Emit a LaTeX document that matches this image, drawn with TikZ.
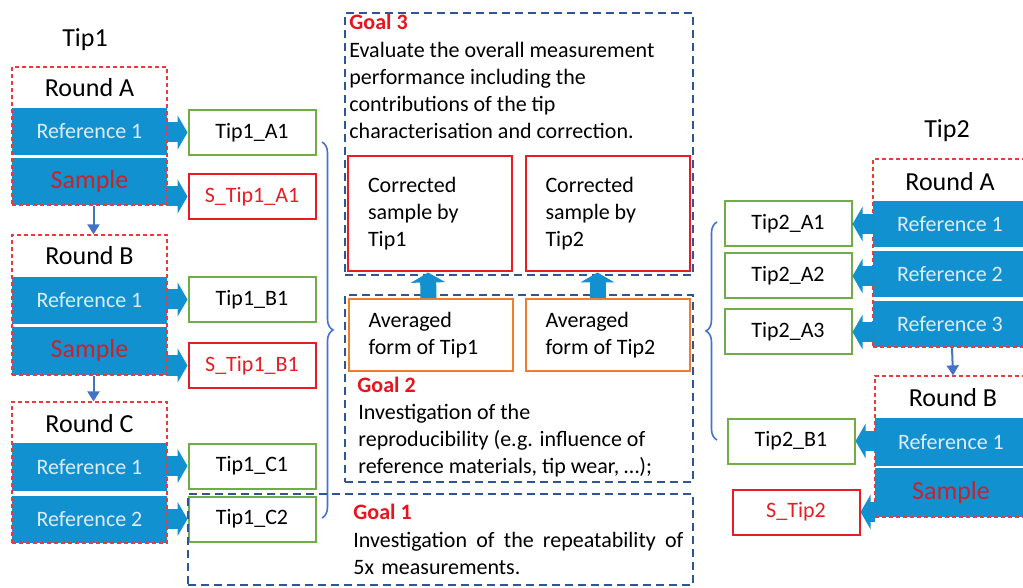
\documentclass[tikz,border=0pt]{standalone}
\usepackage{fontspec}
\setmainfont{Carlito}
\usepackage{tikz}
\usetikzlibrary{arrows.meta,decorations.pathreplacing}

\definecolor{barblue}{RGB}{18,145,208}
\definecolor{refwhite}{RGB}{222,236,250}
\definecolor{smpred}{RGB}{196,36,44}
\definecolor{rndred}{RGB}{232,60,60}
\definecolor{boxgreen}{RGB}{112,173,71}
\definecolor{boxred}{RGB}{232,28,36}
\definecolor{boxorange}{RGB}{237,125,49}
\definecolor{goalblue}{RGB}{47,85,151}
\definecolor{goalred}{RGB}{232,20,28}
\definecolor{linkblue}{RGB}{68,114,196}

\begin{document}
\begin{tikzpicture}[x=0.5pt,y=-0.5pt,font=\fontsize{11}{13.5}\selectfont,
  bar/.style={fill=barblue,inner sep=0pt,text=refwhite},
  smpbar/.style={bar,text=smpred,font=\fontsize{13}{15}\selectfont},
  rnd/.style={draw=rndred,line width=0.6pt,dash pattern=on 2pt off 1.5pt,inner sep=0pt},
  tiphd/.style={font=\fontsize{13}{15}\selectfont},
  tipbox/.style={draw=boxgreen,line width=1pt,minimum width=63.5pt,minimum height=22.5pt,inner sep=0pt},
  sbox/.style={tipbox,draw=boxred,text=boxred},
  corbox/.style={draw=boxred,line width=1pt,text width=62pt,inner xsep=10pt,align=flush left,minimum height=57.5pt},
  avgbox/.style={draw=boxorange,line width=1pt,text width=62pt,inner xsep=10pt,align=flush left,minimum height=36pt},
  goalbox/.style={draw=goalblue,line width=1pt,dash pattern=on 4pt off 2.5pt,inner sep=0pt},
  goalhd/.style={text=goalred,font=\fontsize{11}{13.5}\selectfont\bfseries,inner sep=0pt,anchor=west},
  goaltx/.style={inner sep=0pt,anchor=north west,align=left},
  fatarr/.style={draw=barblue,line width=10pt,-{Triangle[length=5pt,width=17pt]}},
  uparr/.style={draw=barblue,line width=8pt,-{Triangle[length=5pt,width=17pt]}},
  downarr/.style={draw=linkblue,line width=1pt,-{Triangle[length=5pt,width=6pt]}},
  brc/.style={draw=linkblue,line width=0.8pt,decorate,decoration={brace,amplitude=5.5pt}}]
  \clip (0,0) rectangle (1023,588);

  % --- Tip1 ---
  \node[tiphd] (tipL) at (85,40) {Tip1};
  \node[bar,minimum width=77.5pt,minimum height=23.5pt] (refA) at (89.5,131.5) {Reference 1};
  \node[smpbar,minimum width=77.5pt,minimum height=23.5pt] (smpA) at (89.5,181.5) {Sample};
  \node[rnd,minimum width=77.5pt,minimum height=69pt] (rndA) at (89.5,136) {};
  \node[tiphd] (labA) at (89.5,88) {Round A};
  \node[bar,minimum width=77.5pt,minimum height=23.5pt] (refB) at (89.5,300.5) {Reference 1};
  \node[smpbar,minimum width=77.5pt,minimum height=24pt] (smpB) at (89.5,351) {Sample};
  \node[rnd,minimum width=77.5pt,minimum height=70pt] (rndB) at (89.5,305) {};
  \node[tiphd] (labB) at (89.5,256) {Round B};
  \node[bar,minimum width=77.5pt,minimum height=24pt] (refC) at (89.5,467) {Reference 1};
  \node[bar,minimum width=77.5pt,minimum height=23.5pt] (refC2) at (89.5,519.5) {Reference 2};
  \node[rnd,minimum width=77.5pt,minimum height=70.5pt] (rndC) at (89.5,472.5) {};
  \node[tiphd] (labC) at (89.5,424) {Round C};
  \draw[downarr] ([xshift=2pt]rndA.south) -- ([xshift=2pt]rndB.north);
  \draw[downarr] ([xshift=2pt]rndB.south) -- ([xshift=2pt]rndC.north);

  \node[tipbox] (tA1) at (252,132.5) {Tip1\_A1};
  \node[sbox] (sA1) at (252,196.5) {S\_Tip1\_A1};
  \node[tipbox] (tB1) at (252,299.5) {Tip1\_B1};
  \node[sbox] (sB1) at (252,365.5) {S\_Tip1\_B1};
  \node[tipbox] (tC1) at (252,466) {Tip1\_C1};
  \node[tipbox] (tC2) at (252,519) {Tip1\_C2};
  \draw[fatarr] (refA.east |- tA1.west) -- (tA1.west);
  \draw[fatarr] (smpA.east |- sA1.west) -- (sA1.west);
  \draw[fatarr] (refB.east |- tB1.west) -- (tB1.west);
  \draw[fatarr] (smpB.east |- sB1.west) -- (sB1.west);
  \draw[fatarr] (refC.east |- tC1.west) -- (tC1.west);
  \draw[fatarr] (refC2.east |- tC2.west) -- (tC2.west);
  \draw[brc] (322,142) -- (322,518);

  % --- Goal 3 ---
  \node[goalbox,minimum width=174pt,minimum height=131pt] (goalC) at (519,144) {};
  \node[goalhd] (gCh) at (349,22) {Goal 3};
  \node[goaltx] (gCt) at (349,42) {Evaluate the overall measurement\\performance including the\\contributions of the tip\\characterisation and correction.};
  \node[corbox] (corA) at (430,214) {Corrected\\sample by\\Tip1};
  \node[corbox] (corB) at (607.5,214) {Corrected\\sample by\\Tip2};

  % --- Goal 2 ---
  \node[goalbox,minimum width=174pt,minimum height=93.5pt] (goalB) at (519,388.5) {};
  \node[avgbox] (avgA) at (430.5,335) {Averaged\\form of Tip1};
  \node[avgbox] (avgB) at (607.5,335) {Averaged\\form of Tip2};
  \node[goalhd] (gBh) at (357,385) {Goal 2};
  \node[goaltx] (gBt) at (358,404) {Investigation of the\\reproducibility (e.g. influence of\\reference materials, tip wear, …);};
  \draw[uparr] ([xshift=-1pt]avgA.north) -- ([xshift=-1pt]corA.south);
  \draw[uparr] ([xshift=-5pt]avgB.north) -- ([xshift=-5pt]corB.south);

  % --- Goal 1 ---
  \node[goalbox,minimum width=252.5pt,minimum height=45.5pt] (goalA) at (440.5,539.5) {};
  \node[goalhd] (gAh) at (353,512) {Goal 1};
  \node[goaltx,text width=165pt] (gAt) at (353,532) {Investigation\hfill of\hfill the\hfill repeatability\hfill of\\5x measurements.};

  % --- Tip2 ---
  \node[tiphd] (tipR) at (947,131) {Tip2};
  \node[bar,minimum width=77pt,minimum height=23pt] (rA1) at (950,224) {Reference 1};
  \node[bar,minimum width=77pt,minimum height=23pt] (rA2) at (950,274) {Reference 2};
  \node[bar,minimum width=77pt,minimum height=23pt] (rA3) at (950,324) {Reference 3};
  \node[rnd,minimum width=77pt,minimum height=94pt] (rndR) at (950,253) {};
  \node[tiphd] (labR) at (950,182) {Round A};
  \node[bar,minimum width=76pt,minimum height=24pt] (rB1) at (951,442) {Reference 1};
  \node[smpbar,minimum width=76pt,minimum height=24.5pt] (sB) at (951,492.5) {Sample};
  \node[rnd,minimum width=76pt,minimum height=70.5pt] (rndS) at (951,446.5) {};
  \node[tiphd] (labS) at (953,398) {Round B};
  \draw[downarr] ([xshift=1pt]rndR.south) -- ([xshift=1pt]rndS.north);

  \node[tipbox] (uA1) at (788,224) {Tip2\_A1};
  \node[tipbox] (uA2) at (788,276) {Tip2\_A2};
  \node[tipbox] (uA3) at (788,332) {Tip2\_A3};
  \node[tipbox] (uB1) at (791,441) {Tip2\_B1};
  \node[sbox] (sT2) at (796,512) {S\_Tip2};
  \draw[fatarr] (rA1.west |- uA1.east) -- (uA1.east);
  \draw[fatarr] (rA2.west |- uA2.east) -- (uA2.east);
  \draw[fatarr] (rA3.west |- uA3.east) -- (uA3.east);
  \draw[fatarr] (rB1.west |- uB1.east) -- (uB1.east);
  \draw[fatarr] (sB.west |- sT2.east) -- (sT2.east);
  \draw[brc] (717,440) -- (717,222);
\end{tikzpicture}
\end{document}
